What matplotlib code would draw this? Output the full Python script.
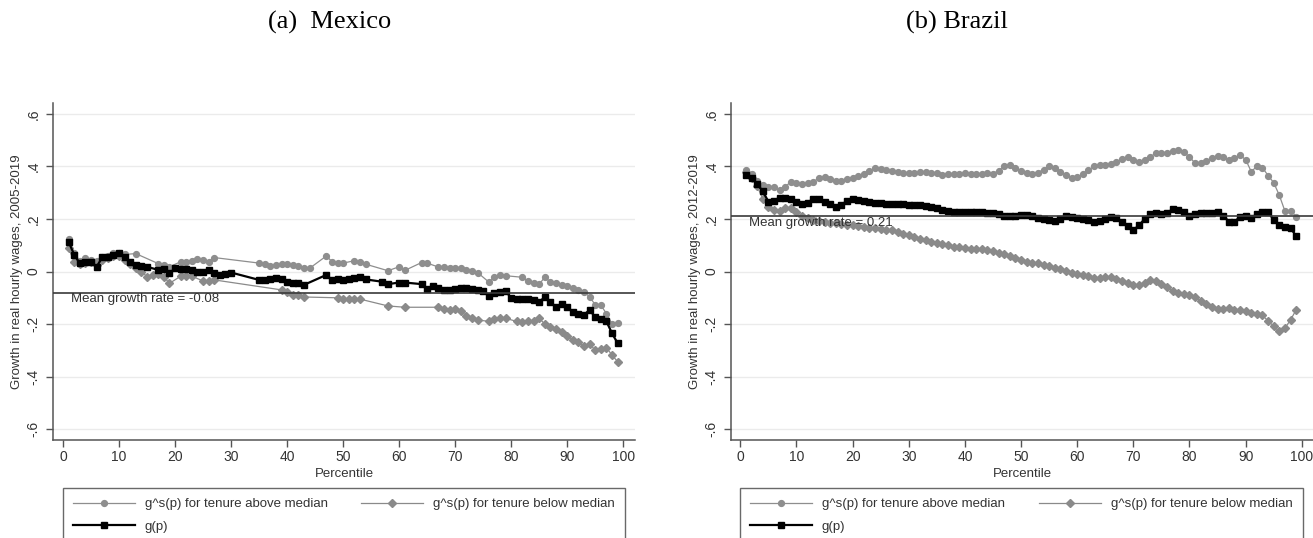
import matplotlib
matplotlib.use("Agg")
import matplotlib.pyplot as plt
import numpy as np

plt.rcParams['font.family'] = ['Liberation Sans', 'DejaVu Sans']

# ---------------- Mexico data ----------------
mx_above_p = [1, 2, 3, 4, 5, 6, 7, 8, 9, 10, 11, 13, 17, 18, 19, 21, 22, 23, 24, 25, 26, 27,
              35, 36, 37, 38, 39, 40, 41, 42, 43, 44, 47, 48, 49, 50, 52, 53, 54, 58, 60, 61,
              64, 65, 67, 68, 69, 70, 71, 72, 73, 74, 76, 77, 78, 79, 82, 83, 84, 85, 86, 87,
              88, 89, 90, 91, 92, 93, 94, 95, 96, 97, 98, 99]
mx_above_v = [0.125, 0.07, 0.04, 0.05, 0.045, 0.04, 0.055, 0.06, 0.07, 0.07, 0.065, 0.068, 0.03,
              0.025, 0.018, 0.037, 0.038, 0.04, 0.047, 0.042, 0.037, 0.053,
              0.032, 0.028, 0.02, 0.024, 0.027, 0.03, 0.026, 0.022, 0.015, 0.012, 0.059, 0.038,
              0.031, 0.032, 0.041, 0.035, 0.028, 0.003, 0.018, 0.004,
              0.034, 0.032, 0.017, 0.019, 0.013, 0.015, 0.015, 0.006, 0.003, -0.004, -0.04,
              -0.022, -0.013, -0.016, -0.022, -0.038, -0.044, -0.048, -0.022, -0.04,
              -0.045, -0.051, -0.057, -0.064, -0.07, -0.078, -0.096, -0.127, -0.128, -0.16,
              -0.2, -0.197]

mx_below_p = [1, 2, 3, 4, 5, 6, 7, 8, 9, 10, 11, 12, 13, 14, 15, 16, 17, 18, 19, 21, 22, 23,
              25, 26, 27, 39, 40, 41, 42, 43, 49, 50, 51, 52, 53, 58, 61, 67, 68, 69, 70, 71,
              72, 73, 74, 76, 77, 78, 79, 81, 82, 83, 84, 85, 86, 87, 88, 89, 90, 91, 92, 93,
              94, 95, 96, 97, 98, 99]
mx_below_v = [0.088, 0.037, 0.03, 0.032, 0.035, 0.025, 0.045, 0.05, 0.06, 0.06, 0.045, 0.03,
              0.015, 0.0, -0.02, -0.015, -0.01, -0.02, -0.045, -0.018, -0.017, -0.018,
              -0.036, -0.035, -0.032, -0.07, -0.077, -0.088, -0.09, -0.097, -0.1, -0.103,
              -0.105, -0.104, -0.105, -0.131, -0.136, -0.136, -0.143, -0.148, -0.143, -0.152,
              -0.168, -0.177, -0.184, -0.19, -0.18, -0.177, -0.178, -0.19, -0.191, -0.19,
              -0.187, -0.178, -0.2, -0.21, -0.22, -0.23, -0.245, -0.26, -0.268, -0.285,
              -0.275, -0.3, -0.296, -0.29, -0.318, -0.343]

mx_g_p = [1, 2, 3, 4, 5, 6, 7, 8, 9, 10, 11, 12, 13, 14, 15, 17, 18, 19, 20, 21, 22, 23, 24,
          25, 26, 27, 28, 29, 30, 35, 36, 37, 38, 39, 40, 41, 42, 43, 47, 48, 49, 50, 51, 52,
          53, 54, 57, 58, 60, 61, 64, 65, 66, 67, 68, 69, 70, 71, 72, 73, 74, 75, 76, 77, 78,
          79, 80, 81, 82, 83, 84, 85, 86, 87, 88, 89, 90, 91, 92, 93, 94, 95, 96, 97, 98, 99]
mx_g_v = [0.113, 0.063, 0.031, 0.037, 0.036, 0.018, 0.054, 0.055, 0.063, 0.069, 0.055, 0.035,
          0.025, 0.02, 0.018, 0.006, 0.01, -0.007, 0.012, 0.01, 0.009, 0.007, 0.0,
          0.0, 0.006, -0.004, -0.013, -0.008, -0.004, -0.032, -0.031, -0.03, -0.026, -0.03,
          -0.039, -0.042, -0.045, -0.051, -0.013, -0.032, -0.03, -0.032, -0.03, -0.026,
          -0.022, -0.03, -0.039, -0.048, -0.042, -0.042, -0.048, -0.068, -0.055, -0.064,
          -0.07, -0.069, -0.066, -0.062, -0.064, -0.068, -0.072, -0.075, -0.093, -0.08,
          -0.077, -0.073, -0.102, -0.105, -0.105, -0.106, -0.11, -0.115, -0.098, -0.115,
          -0.136, -0.122, -0.136, -0.153, -0.162, -0.165, -0.146, -0.174, -0.182, -0.19,
          -0.235, -0.273]
mx_mean = -0.08

# ---------------- Brazil data ----------------
br_p = list(range(1, 100))
br_above_v = [0.386, 0.37, 0.345, 0.33, 0.323, 0.32, 0.31, 0.322, 0.342, 0.335,
              0.333, 0.335, 0.342, 0.355, 0.358, 0.352, 0.345, 0.346, 0.353, 0.356,
              0.363, 0.37, 0.384, 0.392, 0.39, 0.386, 0.382, 0.378, 0.376, 0.374,
              0.373, 0.379, 0.378, 0.376, 0.374, 0.368, 0.37, 0.37, 0.372, 0.374,
              0.372, 0.372, 0.371, 0.374, 0.372, 0.384, 0.401, 0.405, 0.394, 0.384,
              0.376, 0.371, 0.376, 0.388, 0.401, 0.392, 0.38, 0.368, 0.357, 0.358,
              0.37, 0.385, 0.4, 0.405, 0.404, 0.408, 0.418, 0.428, 0.434, 0.426,
              0.418, 0.424, 0.434, 0.452, 0.452, 0.449, 0.458, 0.462, 0.453, 0.436,
              0.412, 0.414, 0.421, 0.432, 0.438, 0.434, 0.425, 0.43, 0.442, 0.426,
              0.38, 0.4, 0.395, 0.365, 0.338, 0.29, 0.23, 0.232, 0.209]
br_below_v = [0.38, 0.354, 0.325, 0.276, 0.247, 0.233, 0.23, 0.24, 0.242, 0.228,
              0.213, 0.203, 0.197, 0.192, 0.188, 0.185, 0.183, 0.181, 0.178, 0.175,
              0.173, 0.17, 0.167, 0.164, 0.16, 0.159, 0.157, 0.151, 0.143, 0.138,
              0.131, 0.124, 0.119, 0.113, 0.108, 0.104, 0.101, 0.095, 0.093, 0.089,
              0.086, 0.084, 0.084, 0.082, 0.077, 0.072, 0.065, 0.058, 0.052, 0.044,
              0.038, 0.033, 0.031, 0.026, 0.02, 0.014, 0.008, 0.001, -0.004, -0.009,
              -0.012, -0.018, -0.023, -0.025, -0.02, -0.021, -0.028, -0.036, -0.044, -0.05,
              -0.05, -0.043, -0.034, -0.037, -0.047, -0.06, -0.073, -0.081, -0.085, -0.09,
              -0.098, -0.113, -0.124, -0.136, -0.144, -0.143, -0.14, -0.145, -0.147, -0.151,
              -0.156, -0.161, -0.167, -0.188, -0.208, -0.228, -0.216, -0.184, -0.146]
br_g_v = [0.367, 0.357, 0.333, 0.305, 0.266, 0.27, 0.281, 0.279, 0.274, 0.266,
          0.258, 0.262, 0.277, 0.275, 0.265, 0.256, 0.246, 0.252, 0.27, 0.274,
          0.272, 0.27, 0.266, 0.262, 0.259, 0.258, 0.257, 0.256, 0.255, 0.253,
          0.253, 0.252, 0.25, 0.246, 0.24, 0.234, 0.231, 0.228, 0.227, 0.227,
          0.227, 0.226, 0.226, 0.224, 0.221, 0.217, 0.213, 0.211, 0.211, 0.215,
          0.214, 0.212, 0.205, 0.198, 0.195, 0.193, 0.2, 0.21, 0.208, 0.204,
          0.2, 0.196, 0.19, 0.192, 0.2, 0.207, 0.204, 0.19, 0.173, 0.158,
          0.175, 0.2, 0.218, 0.222, 0.22, 0.224, 0.236, 0.234, 0.228, 0.212,
          0.22, 0.224, 0.222, 0.224, 0.228, 0.213, 0.19, 0.19, 0.207, 0.212,
          0.203, 0.219, 0.228, 0.228, 0.195, 0.177, 0.17, 0.165, 0.135]
br_mean = 0.21

titles = ["(a)  Mexico", "(b) Brazil"]
ylabels = ["Growth in real hourly wages, 2005-2019", "Growth in real hourly wages, 2012-2019"]
yticks = [-0.6, -0.4, -0.2, 0, 0.2, 0.4, 0.6]
yticklabels = ["-.6", "-.4", "-.2", "0", ".2", ".4", ".6"]
xticks = [0, 10, 20, 30, 40, 50, 60, 70, 80, 90, 100]
leg_labels = ["g^s(p) for tenure above median", "g(p)", "g^s(p) for tenure below median"]

W, H = 1313, 538
fig = plt.figure(figsize=(W / 100, H / 100), dpi=100)

GRAY_A = "#8e8e8e"
GRAY_B = "#8a8a8a"
AX_COL = "#555555"


def panel(left_px, right_px, title, title_x, ylabel, series, mean, leg_left, leg_right):
    top_px, bot_px = 103, 440
    ax = fig.add_axes([left_px / W, 1 - bot_px / H, (right_px - left_px) / W, (bot_px - top_px) / H])
    (ap, av), (bp, bv), (gp, gv) = series
    ax.set_ylim(-0.641, 0.641)
    for t in yticks:
        ax.axhline(t, color="#ebebeb", lw=1.0, zorder=0)
    h_above, = ax.plot(ap, av, color=GRAY_A, lw=0.9, marker="o", ms=4.2, mfc=GRAY_A, mec=GRAY_A, zorder=3)
    h_below, = ax.plot(bp, bv, color=GRAY_B, lw=0.9, marker="D", ms=4.0, mfc=GRAY_B, mec=GRAY_B, zorder=3)
    h_g, = ax.plot(gp, gv, color="black", lw=1.6, marker="s", ms=4.8, mfc="black", mec="black", zorder=4)
    ax.axhline(mean, color="#3a3a3a", lw=1.2, zorder=5)
    ax.text(1.5, mean - 0.026, "Mean growth rate = %s" % ("%.2f" % mean),
            fontsize=9.5, color="#333333", va="center", ha="left", zorder=6)
    ax.set_yticks(yticks)
    ax.set_yticklabels(yticklabels, rotation=90, va="center")
    ax.set_xticks(xticks)
    for s in ["top", "right"]:
        ax.spines[s].set_visible(False)
    for s in ["left", "bottom"]:
        ax.spines[s].set_color(AX_COL)
        ax.spines[s].set_linewidth(1.1)
    ax.tick_params(axis="both", colors=AX_COL, labelcolor="#333333", length=5, width=1.0,
                   labelsize=10)
    ax.tick_params(axis="y", pad=4)
    ax.tick_params(axis="x", pad=2)
    ax.set_ylabel(ylabel, fontsize=9.5, color="#333333")
    ax.yaxis.set_label_coords(-0.052, 0.5)
    ax.set_xlabel("Percentile", fontsize=9.5, color="#333333")
    ax.xaxis.set_label_coords(0.5, -0.082)
    fig.text(title_x / W, 1 - 22 / H, title, fontsize=19, family="Liberation Serif",
             ha="center", va="center", color="black")
    leg = ax.legend([h_above, h_g, h_below], leg_labels, ncol=2, loc="upper left",
                    bbox_to_anchor=(leg_left / W, 0, (leg_right - leg_left) / W, 1 - 488 / H),
                    bbox_transform=fig.transFigure, mode="expand", fontsize=9.5,
                    handlelength=4.7, handletextpad=0.75, columnspacing=2.5, labelspacing=0.78,
                    fancybox=False, frameon=True, borderaxespad=0.0, borderpad=0.75)
    leg.get_frame().set_edgecolor("#444444")
    leg.get_frame().set_linewidth(1.0)
    for t in leg.get_texts():
        t.set_color("#333333")
    return ax


ax1 = panel(53, 635, titles[0], 330, ylabels[0],
            [(mx_above_p, mx_above_v), (mx_below_p, mx_below_v), (mx_g_p, mx_g_v)], mx_mean, 63, 625)
ax1.set_xlim(-1.79, 102.1)
ax2 = panel(731, 1313, titles[1], 957, ylabels[1],
            [(br_p, br_above_v), (br_p, br_below_v), (br_p, br_g_v)], br_mean, 740, 1303)
ax2.set_xlim(-1.66, 102.0)

fig.savefig("out.png", dpi=100)
